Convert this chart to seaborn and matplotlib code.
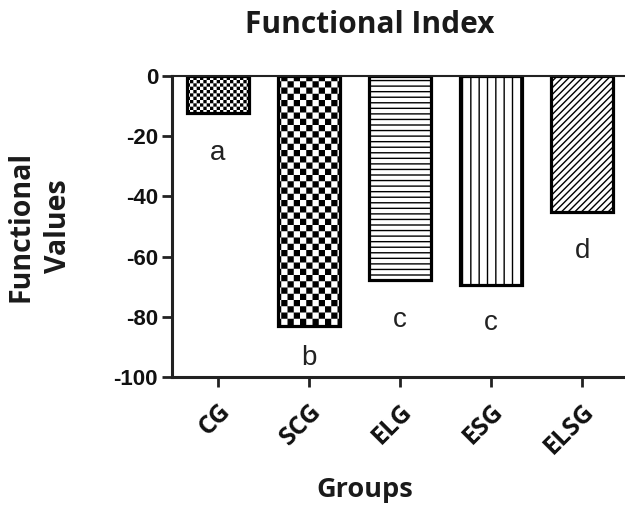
import numpy as np
import matplotlib
matplotlib.use("Agg")
import matplotlib.pyplot as plt
import matplotlib.hatch as mhatch
from matplotlib.path import Path
import seaborn as sns

groups = ["CG", "SCG", "ELG", "ESG", "ELSG"]
values = [-12.3, -83.0, -67.8, -69.5, -45.3]
letters = ["a", "b", "c", "c", "d"]
letter_y = [-28.0, -96.0, -83.5, -84.5, -60.5]
hatches = ["o", "O", "---", "||", "/////"]
yticks = [0, -20, -40, -60, -80, -100]


class Checker(mhatch.HatchPatternBase):
    """filled checkerboard squares, used in place of the circle hatches"""
    char = "O"
    cells = 16

    def __init__(self, hatch, density):
        self.n = self.cells if self.char in hatch else 0
        self.num_vertices = (self.n * self.n // 2) * 5

    def set_vertices_and_codes(self, vertices, codes):
        s = 1.0 / self.n
        pad = 0.007
        sq = np.array([[0, 0], [1, 0], [1, 1], [0, 1], [0, 0]]) * (s - 2 * pad) + pad
        k = 0
        for i in range(self.n):
            for j in range(self.n):
                if (i + j) % 2 == 0:
                    vertices[k:k + 5] = sq + [i * s, j * s]
                    codes[k:k + 5] = [Path.MOVETO, Path.LINETO, Path.LINETO,
                                      Path.LINETO, Path.CLOSEPOLY]
                    k += 5


class FineChecker(Checker):
    char = "o"
    cells = 30


mhatch._hatch_types = [t for t in mhatch._hatch_types
                       if t not in (mhatch.SmallCircles, mhatch.LargeCircles)]
mhatch._hatch_types += [FineChecker, Checker]

sns.set_style("white")
plt.rcParams["hatch.color"] = "black"
plt.rcParams["hatch.linewidth"] = 1.0

fig = plt.figure(figsize=(6.25, 5.05), dpi=100)
ax = fig.add_axes([172 / 625, 1 - 377 / 505, 453 / 625, 301 / 505])

sns.barplot(x=groups, y=values, color="white", saturation=1,
            edgecolor="black", linewidth=2.3, width=0.68, ax=ax)
for patch, h in zip(ax.patches, hatches):
    patch.set_facecolor("white")
    patch.set_hatch(h)

for i, (lt, ly) in enumerate(zip(letters, letter_y)):
    ax.text(i, ly, lt, ha="center", va="baseline", fontsize=20,
            family="Liberation Sans", color="#222222")

ax.set_ylim(-100, 0)
ax.set_xlim(-0.5, 4.47)
ax.set_yticks(yticks)
ax.set_yticklabels([str(v) for v in yticks], fontsize=16,
                   fontweight="bold", family="Liberation Sans", color="#111111")
ax.set_xticks(range(len(groups)))
ax.set_xticklabels(groups, rotation=45, ha="right", rotation_mode="anchor",
                   fontsize=18, fontweight="bold", family="Open Sans", color="#111111")
ax.tick_params(axis="both", direction="out", length=7, width=2,
               color="#222222", left=True, bottom=True, pad=3)
ax.tick_params(axis="x", pad=9)
ax.set_xlabel("")
ax.set_ylabel("")

sns.despine(ax=ax, top=False, right=True)
for side in ["left", "bottom"]:
    ax.spines[side].set_linewidth(2.2)
    ax.spines[side].set_color("#222222")
ax.spines["top"].set_linewidth(1.5)
ax.spines["top"].set_color("#222222")

fig.text(370 / 625, 1 - 25 / 505, "Functional Index", ha="center", va="center",
         fontsize=21.5, fontweight="bold", family="Open Sans", color="#1a1a1a")
fig.text(365 / 625, 1 - 490 / 505, "Groups", ha="center", va="center",
         fontsize=19.5, fontweight="bold", family="Open Sans", color="#1a1a1a")
fig.text(40 / 625, 1 - 226 / 505, "Functional\nValues", ha="center", va="center",
         rotation=90, multialignment="center", linespacing=1.4,
         fontsize=20.5, fontweight="bold", family="Open Sans", color="#1a1a1a")

fig.savefig("out.png", dpi=100)
